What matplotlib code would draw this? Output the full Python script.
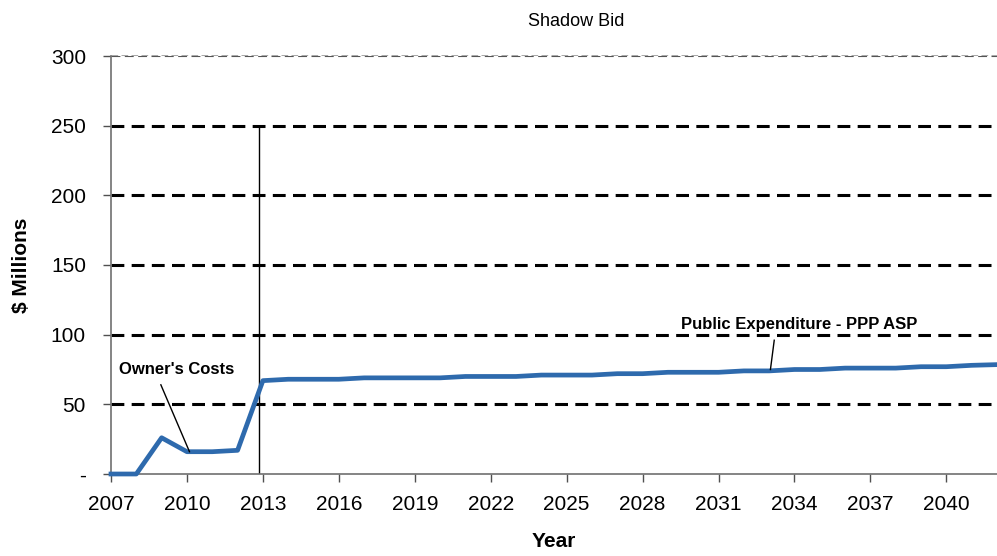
import matplotlib.pyplot as plt
import numpy as np

plt.rcParams['font.family'] = ['Liberation Sans', 'DejaVu Sans']

years = np.arange(2007, 2043)
spend = [0, 0, 26, 16, 16, 17, 67, 68, 68, 68, 69, 69, 69, 69, 70, 70, 70, 71,
         71, 71, 72, 72, 73, 73, 73, 74, 74, 75, 75, 76, 76, 76, 77, 77, 78, 78.5]
yticks = [0, 50, 100, 150, 200, 250, 300]
ytick_labels = ['-', '50', '100', '150', '200', '250', '300']
xticks = np.arange(2007, 2043, 3)

fig = plt.figure(figsize=(9.97, 5.56), dpi=100)
ax = fig.add_axes([111 / 997, 82 / 556, 886 / 997, 418 / 556])

# gridlines
for y in yticks[1:-1]:
    ax.axhline(y, color='black', lw=2.2, ls=(0, (4.2, 2.4)), zorder=1)
ax.axhline(300, color='#555555', lw=0.8, ls=(0, (8, 4)), zorder=1)
ax.axhline(300.7, color='#999999', lw=0.6, ls=(0, (8, 4)), zorder=1, clip_on=False)

# split between owner's costs and PPP
ax.plot([2012.85, 2012.85], [0, 250], color='black', lw=1, zorder=2)

ax.plot(years, spend, color='#2E6AAD', lw=3.4, zorder=3, clip_on=False)

ax.set_xlim(2007, 2042)
ax.set_ylim(0, 300)
ax.set_yticks(yticks)
ax.set_yticklabels(ytick_labels)
ax.set_xticks(xticks)

for s in ['top', 'right']:
    ax.spines[s].set_visible(False)
for s in ['left', 'bottom']:
    ax.spines[s].set_color('#707070')
    ax.spines[s].set_linewidth(1.2)
ax.tick_params(axis='both', direction='out', length=6, width=1, color='#505050',
               labelsize=15)
ax.tick_params(axis='y', pad=12)
ax.tick_params(axis='x', pad=9)

ax.set_xlabel('Year', fontsize=15, fontweight='bold', labelpad=13)
ax.set_ylabel('$ Millions', fontsize=15, fontweight='bold', labelpad=14)
fig.text(576 / 997, 1 - 22 / 556, 'Shadow Bid', fontsize=13, ha='center', va='center')

# data labels with leader lines
ax.text(2007.3, 74.7, "Owner's Costs", fontsize=12, fontweight='bold',
        ha='left', va='center')
ax.plot([2008.97, 2010.1], [64, 16], color='black', lw=1, zorder=4)
ax.text(2034.2, 107.5, 'Public Expenditure - PPP ASP', fontsize=12,
        fontweight='bold', ha='center', va='center')
ax.plot([2033.2, 2033.05], [96, 75], color='black', lw=1, zorder=4)

fig.savefig('out.png', dpi=100)
